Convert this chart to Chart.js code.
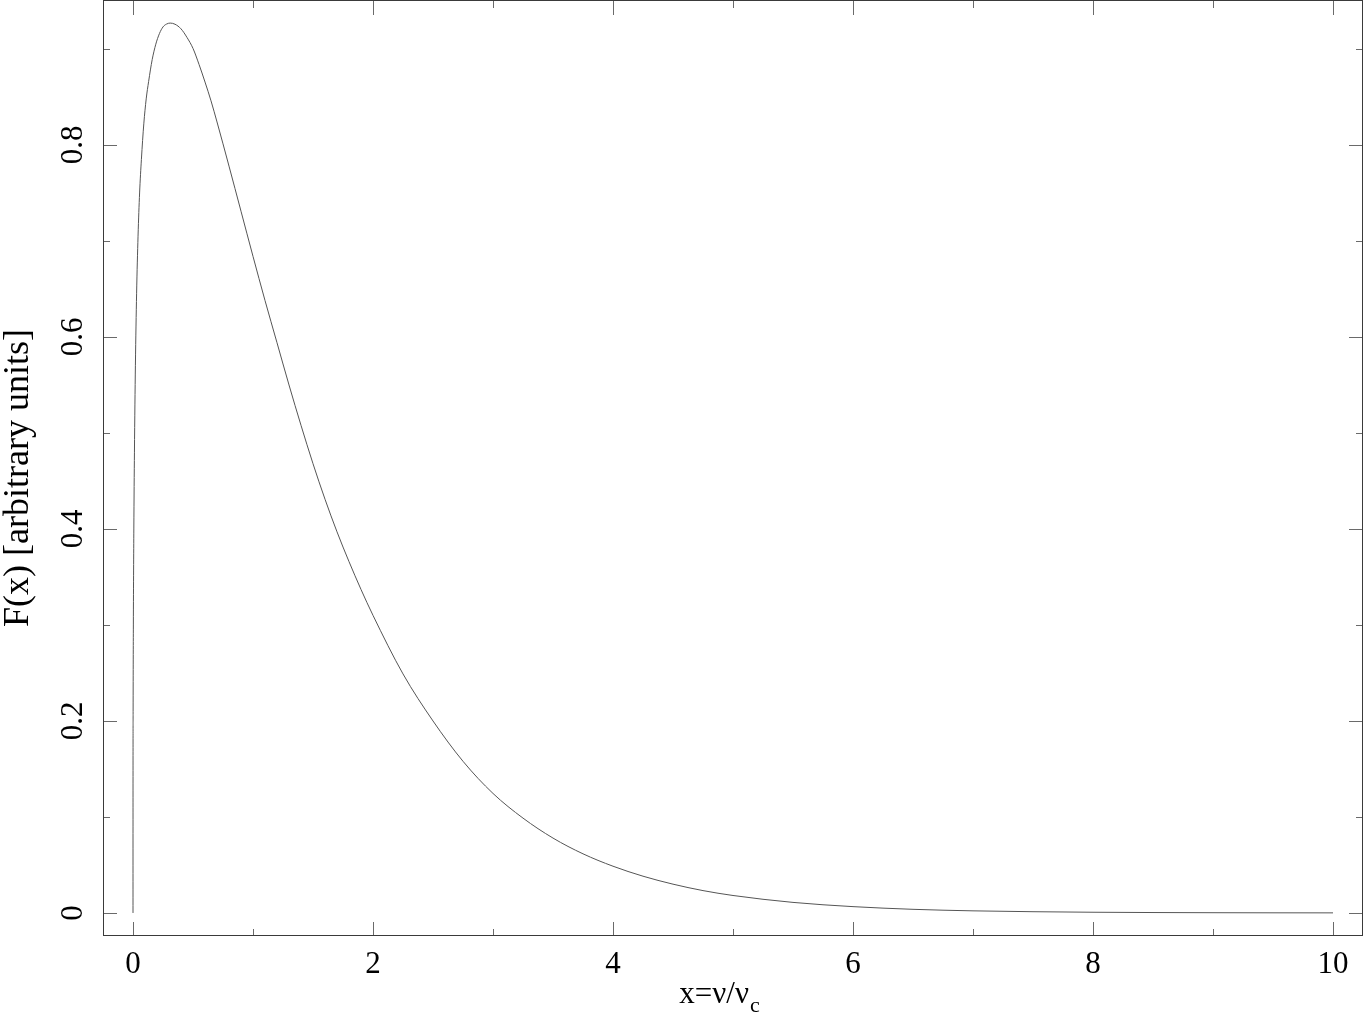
<!DOCTYPE html>
<html><head><meta charset="utf-8">
<script src="https://cdn.jsdelivr.net/npm/chart.js@4/dist/chart.umd.min.js"></script>
<style>html,body{margin:0;padding:0;background:#fff;overflow:hidden}#wrap{width:1365px;height:1021px;position:relative}</style>
</head><body><div id="wrap"><canvas id="c"></canvas></div>
<script>
// x = nu / nu_c
const xValues = [0, 0.0002, 0.001, 0.003, 0.007, 0.012, 0.02, 0.03, 0.042, 0.055, 0.07, 0.09, 0.11, 0.13, 0.16, 0.19, 0.22, 0.25, 0.28, 0.31, 0.35, 0.40, 0.45, 0.50, 0.55, 0.60, 0.65, 0.70, 0.8, 0.9, 1.0, 1.1, 1.2, 1.3, 1.4, 1.5, 1.6, 1.7, 1.8, 1.9, 2.0, 2.25, 2.5, 2.75, 3.0, 3.25, 3.5, 3.75, 4.0, 4.25, 4.5, 4.75, 5.0, 5.5, 6.0, 6.5, 7.0, 7.5, 8.0, 8.5, 9.0, 9.5, 10];
// F(x) [arbitrary units]
const fValues = [0, 0.12, 0.21, 0.30, 0.40, 0.48, 0.57, 0.645, 0.705, 0.75, 0.785, 0.822, 0.848, 0.866, 0.889, 0.905, 0.916, 0.923, 0.926, 0.927, 0.9258, 0.921, 0.912, 0.9006, 0.884, 0.8656, 0.846, 0.824, 0.778, 0.731, 0.684, 0.638, 0.594, 0.550, 0.508, 0.468, 0.431, 0.397, 0.366, 0.337, 0.310, 0.249, 0.200, 0.158, 0.1245, 0.0988, 0.078, 0.0616, 0.0487, 0.0383, 0.0300, 0.0233, 0.0182, 0.0110, 0.0066, 0.0038, 0.0022, 0.0013, 0.00075, 0.00044, 0.00026, 0.00015, 0.00009];
const xMajorTicks = [0, 2, 4, 6, 8, 10];
const xMinorTicks = [1, 3, 5, 7, 9];
const yMajorTicks = [0, 0.2, 0.4, 0.6, 0.8];
const yMinorTicks = [0.1, 0.3, 0.5, 0.7, 0.9];
const xTickLabels = ['0', '2', '4', '6', '8', '10'];
const yTickLabels = ['0', '0.2', '0.4', '0.6', '0.8'];
const xTitleMain = 'x=\u03bd/\u03bd';
const xTitleSub = 'c';
const yTitle = 'F(x) [arbitrary units]';

const FONT = '"Liberation Serif", "Times New Roman", serif';
const FS = 31;
const YTITLE_FS = 36;

const framePlugin = {
  id: 'frame',
  afterDraw(chart) {
    const ctx = chart.ctx, a = chart.chartArea;
    const xs = chart.scales.x, ys = chart.scales.y;
    ctx.save();
    ctx.strokeStyle = '#6a6a6a';
    ctx.lineWidth = 1;
    ctx.beginPath();
    const vt = (vals, len) => vals.forEach(v => {
      const p = Math.round(xs.getPixelForValue(v)) + 0.5;
      ctx.moveTo(p, a.bottom); ctx.lineTo(p, a.bottom - len);
      ctx.moveTo(p, a.top); ctx.lineTo(p, a.top + len);
    });
    const ht = (vals, len) => vals.forEach(v => {
      const p = Math.round(ys.getPixelForValue(v)) + 0.5;
      ctx.moveTo(a.left, p); ctx.lineTo(a.left + len, p);
      ctx.moveTo(a.right, p); ctx.lineTo(a.right - len, p);
    });
    vt(xMajorTicks, 14); vt(xMinorTicks, 7);
    ht(yMajorTicks, 14); ht(yMinorTicks, 7);
    ctx.stroke();
    ctx.strokeStyle = '#3a3a3a';
    ctx.strokeRect(Math.round(a.left) + 0.5, Math.round(a.top) - 0.5, Math.round(a.right - a.left) - 1, Math.round(a.bottom - a.top));
    ctx.fillStyle = '#000';
    ctx.font = FS + 'px ' + FONT;
    ctx.textAlign = 'center';
    ctx.textBaseline = 'alphabetic';
    xMajorTicks.forEach((v, i) => {
      ctx.fillText(xTickLabels[i], xs.getPixelForValue(v), a.bottom + 37);
    });
    yMajorTicks.forEach((v, i) => {
      ctx.save();
      ctx.translate(a.left - 21, ys.getPixelForValue(v));
      ctx.rotate(-Math.PI / 2);
      ctx.fillText(yTickLabels[i], 0, 0);
      ctx.restore();
    });
    const mainW = ctx.measureText(xTitleMain).width;
    ctx.font = Math.round(FS * 0.7) + 'px ' + FONT;
    const subW = ctx.measureText(xTitleSub).width;
    const cx = 719;
    const startX = cx - (mainW + subW) / 2;
    ctx.textAlign = 'left';
    ctx.font = FS + 'px ' + FONT;
    ctx.fillText(xTitleMain, startX, a.bottom + 67);
    ctx.font = Math.round(FS * 0.7) + 'px ' + FONT;
    ctx.fillText(xTitleSub, startX + mainW + 1, a.bottom + 76);
    ctx.font = YTITLE_FS + 'px ' + FONT;
    ctx.textAlign = 'center';
    ctx.save();
    ctx.translate(28, 478);
    ctx.rotate(-Math.PI / 2);
    ctx.fillText(yTitle, 0, 0);
    ctx.restore();
    ctx.restore();
  }
};

new Chart(document.getElementById('c'), {
  type: 'scatter',
  data: {
    datasets: [{
      data: xValues.map((x, i) => ({ x: x, y: fValues[i] })),
      showLine: true,
      borderColor: '#555555',
      borderWidth: 1,
      pointRadius: 0,
      cubicInterpolationMode: 'monotone',
      fill: false
    }]
  },
  options: {
    responsive: true,
    maintainAspectRatio: false,
    animation: false,
    events: [],
    layout: { padding: { top: 1, right: 2, left: 0, bottom: 0 } },
    plugins: { legend: { display: false }, tooltip: { enabled: false }, title: { display: false } },
    scales: {
      x: {
        type: 'linear', min: -0.25, max: 10.25,
        grid: { display: false }, border: { display: false },
        ticks: { display: false },
        afterFit(s) { s.height = 85; }
      },
      y: {
        type: 'linear', min: -0.024, max: 0.95,
        grid: { display: false }, border: { display: false },
        ticks: { display: false },
        afterFit(s) { s.width = 103; }
      }
    }
  },
  plugins: [framePlugin]
});
</script>
</body></html>
